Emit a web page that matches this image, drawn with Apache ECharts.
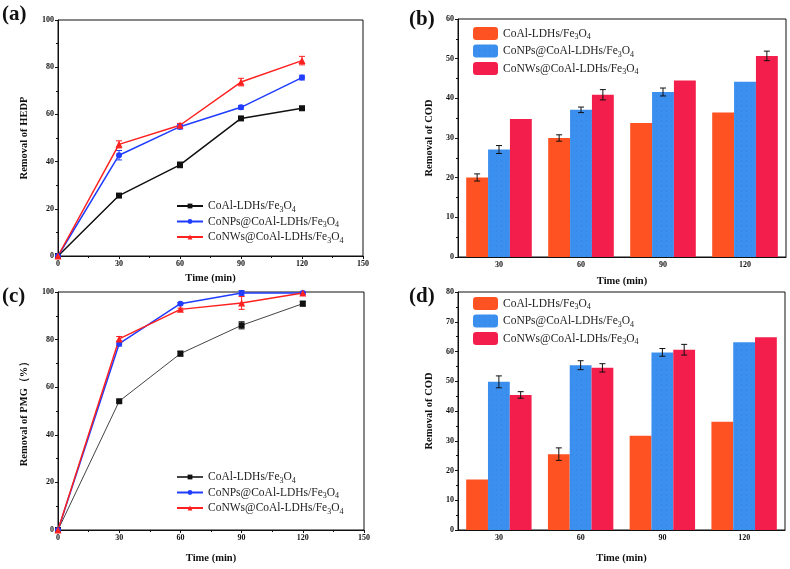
<!DOCTYPE html>
<html>
<head>
<meta charset="utf-8">
<script src="https://cdn.jsdelivr.net/npm/echarts@6/dist/echarts.min.js"></script>
<style>
  html, body { margin: 0; padding: 0; background: #fff; }
  .panel { position: absolute; }
  #pa { left: 0; top: 0; width: 395px; height: 296px; }
  #pb { left: 395px; top: 0; width: 395px; height: 296px; }
  #pc { left: 0; top: 284px; width: 395px; height: 285px; }
  #pd { left: 395px; top: 284px; width: 395px; height: 285px; }
</style>
</head>
<body>
<div class="panel" id="pa"></div>
<div class="panel" id="pb"></div>
<div class="panel" id="pc"></div>
<div class="panel" id="pd"></div>
<script>
// 数据
var names = ["CoAl-LDHs/Fe3O4", "CoNPs@CoAl-LDHs/Fe3O4", "CoNWs@CoAl-LDHs/Fe3O4"];
var timeLine = [0, 30, 60, 90, 120];
var timeBar = ["30", "60", "90", "120"];

// (a) HEDP
var hedpA = [0, 25.6, 38.6, 58.3, 62.6];
var hedpB = [0, 42.7, 54.8, 63.0, 75.6];
var hedpC = [0, 47.3, 55.4, 73.7, 82.8];
var hedpErrA = [0, 0.8, 1.2, 0.8, 0.8];
var hedpErrB = [0, 2.0, 1.0, 0.8, 1.0];
var hedpErrC = [0, 1.5, 0.8, 1.6, 1.8];

// (b) COD
var codA1 = [20.05, 30.0, 33.8, 36.4];
var codB1 = [27.1, 37.1, 41.6, 44.2];
var codC1 = [34.8, 40.9, 44.5, 50.7];
var codErrA1 = [0.9, 0.8, 0, 0];
var codErrB1 = [1.0, 0.7, 1.0, 0];
var codErrC1 = [0, 1.3, 0, 1.2];

// (c) PMG
var pmgA = [0, 54.1, 74.1, 86.0, 95.1];
var pmgB = [0, 78.3, 95.1, 99.6, 99.6];
var pmgC = [0, 80.3, 92.7, 95.4, 99.6];
var pmgErrA = [0, 0.5, 1.0, 1.5, 1.0];
var pmgErrB = [0, 1.0, 0.5, 1.0, 0.5];
var pmgErrC = [0, 1.0, 0.5, 2.7, 0.5];

// (d) COD
var codA2 = [17.0, 25.5, 31.7, 36.4];
var codB2 = [49.8, 55.4, 59.7, 63.1];
var codC2 = [45.4, 54.5, 60.6, 64.8];
var codErrA2 = [0, 2.1, 0, 0];
var codErrB2 = [2.0, 1.5, 1.3, 0];
var codErrC2 = [1.1, 1.4, 1.8, 0];

var serif = "Liberation Serif";
var barColors = ["#ff5222", "#3b8fee", "#f31e4b"];
var lineColors = ["#111", "#1f3cff", "#ff2020"];

function legendFmt(name) {
  return name.replace("Fe3O4", "Fe{s|3}O{s|4}");
}
var legendText = {
  fontFamily: serif, fontSize: 11.5, color: "#222",
  rich: { s: { fontFamily: serif, fontSize: 8, color: "#222", padding: [7, 0, 0, 0] } }
};

function tickLabel() {
  return { fontFamily: serif, fontSize: 8, fontWeight: "bold", color: "#111", margin: 4 };
}
function axisName() {
  return { fontFamily: serif, fontSize: 10.5, fontWeight: "bold", color: "#111" };
}

function panelLabel(text, x, y) {
  return {
    type: "text", left: x, top: y,
    style: { text: text, font: "bold 21px " + serif, fill: "#111" }
  };
}

function gridOf(g) {
  return Object.assign({
    show: true, borderColor: "#111", borderWidth: 1,
    containLabel: false, outerBoundsMode: "none"
  }, g);
}

// 误差棒（折线）
function lineErr(xs, ys, errs, color) {
  var d = xs.map(function (x, i) { return [x, ys[i], errs[i]]; });
  return {
    type: "custom", data: d, z: 1, silent: true,
    renderItem: function (params, api) {
      var e = api.value(2);
      if (!e) return null;
      var hi = api.coord([api.value(0), api.value(1) + e]);
      var lo = api.coord([api.value(0), api.value(1) - e]);
      var st = { stroke: color, lineWidth: 1 };
      return { type: "group", children: [
        { type: "line", shape: { x1: hi[0], y1: hi[1], x2: lo[0], y2: lo[1] }, style: st },
        { type: "line", shape: { x1: hi[0] - 3, y1: hi[1], x2: hi[0] + 3, y2: hi[1] }, style: st },
        { type: "line", shape: { x1: lo[0] - 3, y1: lo[1], x2: lo[0] + 3, y2: lo[1] }, style: st }
      ] };
    }
  };
}

// 误差棒（柱状）
function barErr(vals, errs, idx) {
  var d = vals.map(function (v, i) { return [i, v, errs[i]]; });
  return {
    type: "custom", data: d, z: 5, silent: true,
    renderItem: function (params, api) {
      var e = api.value(2);
      if (!e) return null;
      var band = api.size([1, 0])[0];
      var bw = band * 0.8 / 3;
      var c = api.coord([api.value(0), api.value(1)]);
      var x = c[0] + (idx - 1) * bw;
      var hi = api.coord([api.value(0), api.value(1) + e])[1];
      var lo = api.coord([api.value(0), api.value(1) - e])[1];
      var st = { stroke: "#111", lineWidth: 1 };
      return { type: "group", children: [
        { type: "line", shape: { x1: x, y1: hi, x2: x, y2: lo }, style: st },
        { type: "line", shape: { x1: x - 3, y1: hi, x2: x + 3, y2: hi }, style: st },
        { type: "line", shape: { x1: x - 3, y1: lo, x2: x + 3, y2: lo }, style: st }
      ] };
    }
  };
}

function lineOption(opts) {
  var syms = ["rect", "circle", "triangle"];
  var series = [];
  opts.data.forEach(function (ys, i) {
    series.push(lineErr(timeLine, ys, opts.err[i], lineColors[i]));
  });
  opts.data.forEach(function (ys, i) {
    series.push({
      name: names[i], type: "line",
      data: timeLine.map(function (x, k) { return [x, ys[k]]; }),
      symbol: syms[i], symbolSize: i === 2 ? 7 : 6,
      itemStyle: { color: lineColors[i] },
      lineStyle: { color: i === 0 && opts.thinFirst ? "#444" : lineColors[i], width: i === 0 && opts.thinFirst ? 1 : 1.5 },
      z: 3
    });
  });
  return {
    animation: false,
    grid: gridOf(opts.grid),
    legend: {
      data: names, orient: "vertical", left: opts.legendPos[0], top: opts.legendPos[1],
      itemWidth: 26, itemHeight: 6, itemGap: 2,
      formatter: legendFmt, textStyle: legendText
    },
    graphic: [opts.label],
    xAxis: {
      type: "value", min: 0, max: 150, interval: 30,
      name: "Time (min)", nameLocation: "middle", nameGap: opts.xNameGap, nameTextStyle: axisName(),
      axisLine: { lineStyle: { color: "#111" } },
      axisTick: { length: 3, lineStyle: { color: "#111" } },
      minorTick: { show: true, splitNumber: 2, length: 2, lineStyle: { color: "#111" } },
      splitLine: { show: false },
      axisLabel: tickLabel()
    },
    yAxis: {
      type: "value", min: 0, max: 100, interval: 20,
      name: opts.yName, nameLocation: "middle", nameGap: 28, nameTextStyle: axisName(),
      axisLine: { show: true, lineStyle: { color: "#111" } },
      axisTick: { show: true, length: 3, lineStyle: { color: "#111" } },
      minorTick: { show: true, splitNumber: 2, length: 2, lineStyle: { color: "#111" } },
      splitLine: { show: false },
      axisLabel: tickLabel()
    },
    series: series
  };
}

function barOption(opts) {
  var series = [];
  opts.data.forEach(function (vals, i) {
    var s = {
      name: names[i], type: "bar", data: vals,
      barGap: "0%", barCategoryGap: "20%",
      itemStyle: { color: barColors[i] }
    };
    if (i === 1) {
      s.itemStyle.decal = { symbol: "rect", symbolSize: 0.25, color: "rgba(20,60,140,0.35)", dashArrayX: [3, 2], dashArrayY: [2, 3], rotation: 0 };
    }
    series.push(s);
  });
  opts.data.forEach(function (vals, i) {
    series.push(barErr(vals, opts.err[i], i));
  });
  return {
    animation: false,
    grid: gridOf(opts.grid),
    legend: {
      data: names, orient: "vertical", left: 73, top: opts.legendTop,
      itemWidth: 25, itemHeight: 13, itemGap: 3.5,
      formatter: legendFmt, textStyle: legendText
    },
    graphic: [opts.label],
    xAxis: {
      type: "category", data: timeBar,
      name: "Time (min)", nameLocation: "middle", nameGap: opts.xNameGap, nameTextStyle: axisName(),
      axisLine: { lineStyle: { color: "#111" } },
      axisTick: { show: false },
      axisLabel: tickLabel()
    },
    yAxis: {
      type: "value", min: 0, max: opts.yMax, interval: 10,
      name: "Removal of COD", nameLocation: "middle", nameGap: 19, nameTextStyle: axisName(),
      axisLine: { show: true, lineStyle: { color: "#111" } },
      axisTick: { show: true, length: 3, lineStyle: { color: "#111" } },
      minorTick: { show: true, splitNumber: 2, length: 2, lineStyle: { color: "#111" } },
      splitLine: { show: false },
      axisLabel: tickLabel()
    },
    series: series
  };
}

var ca = echarts.init(document.getElementById("pa"));
var cb = echarts.init(document.getElementById("pb"));
var cc = echarts.init(document.getElementById("pc"));
var cd = echarts.init(document.getElementById("pd"));

ca.setOption(lineOption({
  data: [hedpA, hedpB, hedpC], err: [hedpErrA, hedpErrB, hedpErrC],
  grid: { left: 58, top: 20, width: 305, height: 236 },
  legendPos: [171, 195], yName: "Removal of HEDP", xNameGap: 17,
  label: panelLabel("(a)", 2, 4)
}));

cb.setOption(barOption({
  data: [codA1, codB1, codC1], err: [codErrA1, codErrB1, codErrC1],
  grid: { left: 63, top: 19, width: 328, height: 238 },
  legendTop: 22, yMax: 60, xNameGap: 19,
  label: panelLabel("(b)", 14, 9)
}));

cc.setOption(lineOption({
  data: [pmgA, pmgB, pmgC], err: [pmgErrA, pmgErrB, pmgErrC],
  grid: { left: 58, top: 8, width: 306, height: 238 },
  legendPos: [171, 182], yName: "Removal of PMG（%）", thinFirst: true, xNameGap: 23,
  label: panelLabel("(c)", 2, 2)
}));

cd.setOption(barOption({
  data: [codA2, codB2, codC2], err: [codErrA2, codErrB2, codErrC2],
  grid: { left: 63, top: 8, width: 327, height: 238 },
  legendTop: 8, yMax: 80, xNameGap: 23,
  label: panelLabel("(d)", 14, 2)
}));
</script>
</body>
</html>
